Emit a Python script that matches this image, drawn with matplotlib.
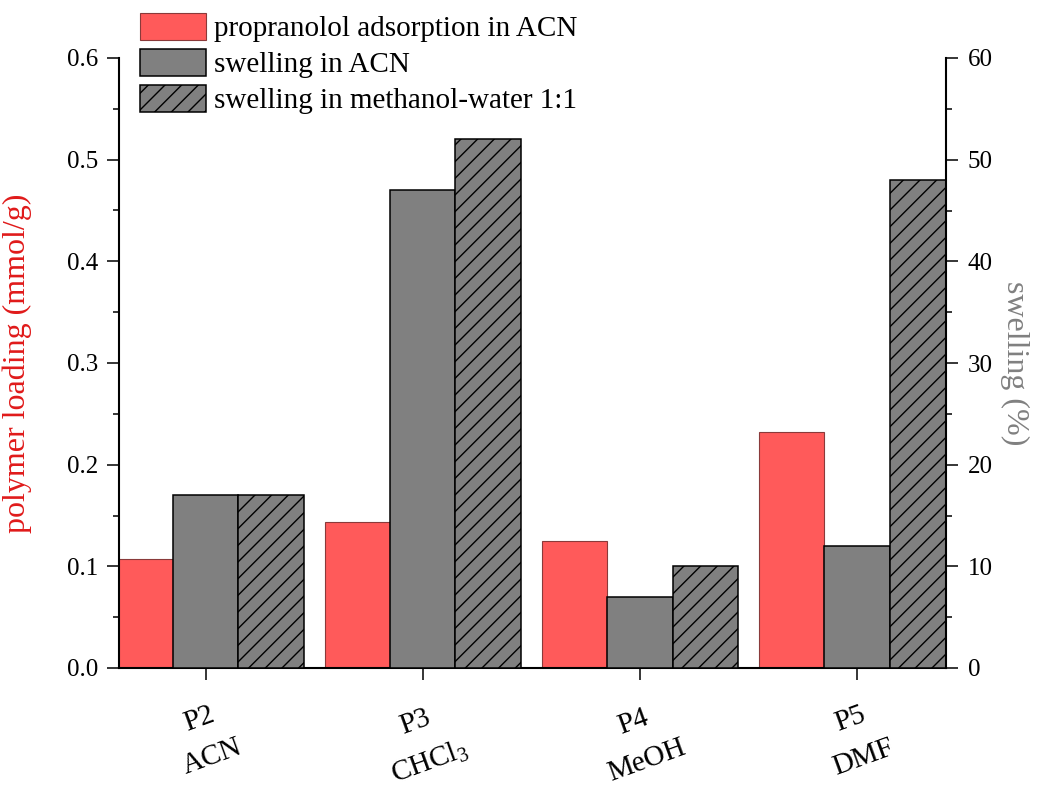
import numpy as np
import matplotlib.pyplot as plt

plt.rcParams['font.family'] = ['Liberation Serif', 'DejaVu Serif']
plt.rcParams['mathtext.fontset'] = 'custom'
plt.rcParams['mathtext.rm'] = 'Liberation Serif'
plt.rcParams['mathtext.it'] = 'Liberation Serif:italic'
plt.rcParams['hatch.linewidth'] = 1.0

# data
polymers = ['P2', 'P3', 'P4', 'P5']
solvents = ['ACN', r'CHCl$_\mathrm{3}$', 'MeOH', 'DMF']
loading = [0.107, 0.144, 0.125, 0.232]        # mmol/g, left axis
swell_acn = [17, 47, 7, 12]                    # %, right axis
swell_meoh_water = [17, 52, 10, 48]            # %, right axis

red = '#FF5A5A'
gray = '#808080'

fig = plt.figure(figsize=(10.61, 7.89), dpi=100)
ax = fig.add_axes([119 / 1061, 1 - 668 / 789, (946 - 119) / 1061, (668 - 58) / 789])
ax2 = ax.twinx()

x = np.arange(len(polymers))
w = 0.3

b1 = ax.bar(x - w, loading, w, color=red, edgecolor='#8a3a3a', linewidth=0.8,
            label='propranolol adsorption in ACN')
b2 = ax2.bar(x, swell_acn, w, color=gray, edgecolor='black', linewidth=1.1,
             label='swelling in ACN')
b3 = ax2.bar(x + w, swell_meoh_water, w, color=gray, edgecolor='black', linewidth=1.1,
             hatch='//', label='swelling in methanol-water 1:1')

ax.set_xlim(-0.40, 3.41)
ax.set_ylim(0, 0.6)
ax2.set_ylim(0, 60)

ax.set_yticks(np.arange(0, 0.61, 0.1))
ax.set_yticks(np.arange(0.05, 0.6, 0.1), minor=True)
ax.yaxis.set_major_formatter(plt.FormatStrFormatter('%.1f'))
ax2.set_yticks(np.arange(0, 61, 10))
ax2.set_yticks(np.arange(5, 60, 10), minor=True)

ax.set_xticks(x)
ax.set_xticklabels([p + '\n' + s for p, s in zip(polymers, solvents)],
                   rotation=20, ha='center', va='top', linespacing=1.7, fontsize=21)

for a in (ax, ax2):
    a.tick_params(which='major', length=8.6, width=1.1, labelsize=18)
    a.tick_params(which='minor', length=4.3, width=1.1)
    a.spines['top'].set_visible(False)
    for s in a.spines.values():
        s.set_linewidth(1.5)
ax.spines['right'].set_visible(False)
ax2.spines['left'].set_visible(False)
ax2.spines['bottom'].set_visible(False)
ax.tick_params(axis='y', pad=6)
ax.tick_params(axis='x', pad=12, labelsize=21)
ax2.tick_params(axis='y', pad=7)

ax.set_ylabel('polymer loading (mmol/g)', color='#E01A1A', fontsize=23)
ax.yaxis.set_label_coords(-0.105, 0.5)
ax2.set_ylabel('swelling (%)', color=gray, fontsize=23, rotation=270, va='center')
ax2.yaxis.set_label_coords(1.083, 0.5)

ax2.legend(handles=[b1, b2, b3], loc='upper left', frameon=False,
           bbox_to_anchor=(140 / 1061, 1 - 13 / 789), bbox_transform=fig.transFigure,
           borderaxespad=0, borderpad=0, fontsize=21, handlelength=2.25,
           handleheight=1.05, labelspacing=0.22, handletextpad=0.27)

plt.savefig('out.png', dpi=100)
